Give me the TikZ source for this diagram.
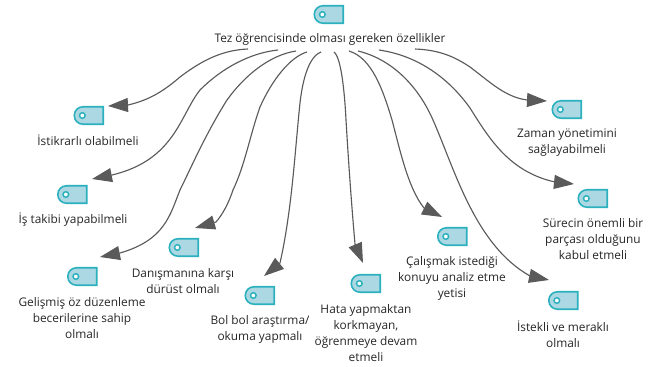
\documentclass[tikz,border=0pt]{standalone}
\usepackage{fontspec}
\setmainfont{Open Sans}
\usetikzlibrary{arrows.meta}
\definecolor{tagteal}{HTML}{2BB0BE}
\definecolor{tagfill}{HTML}{ABD8E2}
\definecolor{linkgray}{HTML}{5A5A5A}
\definecolor{labelink}{HTML}{262626}
\tikzset{
  tagbox/.style={minimum width=21.4pt,minimum height=13.1pt,inner sep=0pt,outer sep=0pt},
  tagshape/.style={draw=tagteal,fill=tagfill,line width=1.2pt},
  taghole/.style={draw=tagteal,fill=white,line width=1.1pt},
  label/.style={font=\fontsize{8.9pt}{12pt}\selectfont,text=labelink,align=center,inner sep=0pt,yshift=-0.4pt},
  link/.style={draw=linkgray,line width=0.85pt,-{Triangle[length=15pt,width=10.5pt,fill=linkgray]}},
}
\newcommand{\tagicon}[3]{%
  \node[tagbox] (#1) at (#2,#3) {};
  \path[tagshape] (#1.north east) -- (#1.south east) -- ([xshift=6.2pt]#1.south west)
    arc[start angle=270,end angle=90,radius=6.55pt] -- cycle;
  \draw[taghole] ([xshift=-5pt]#1.center) circle (2.1pt);
}
\begin{document}
\begin{tikzpicture}[x=0.75pt,y=-0.75pt]
\useasboundingbox (0,0) rectangle (654,367);
\tagicon{r}{329}{14.5}
\tagicon{i1}{89}{115.5}
\tagicon{i2}{72.5}{194.5}
\tagicon{i3}{82.5}{276.5}
\tagicon{i4}{184}{247.5}
\tagicon{i5}{260}{295.5}
\tagicon{i6}{366}{283.5}
\tagicon{i7}{452.5}{236.5}
\tagicon{i8}{567}{109.5}
\tagicon{i9}{593}{198.5}
\tagicon{i10}{563.5}{300.5}
\node[label] (tr) at (330,39) {Tez öğrencisinde olması gereken özellikler};
\node[label] (t1) at (88,140) {İstikrarlı olabilmeli};
\node[label] (t2) at (73,219) {İş takibi yapabilmeli};
\node[label] (t3) at (82,318) {Gelişmiş öz düzenleme\\becerilerine sahip\\olmalı};
\node[label] (t4) at (183,281) {Danışmanına karşı\\dürüst olmalı};
\node[label] (t5) at (260,328.5) {Bol bol araştırma/\\okuma yapmalı};
\node[label] (t6) at (366,332.5) {Hata yapmaktan\\korkmayan,\\öğrenmeye devam\\etmeli};
\node[label] (t7) at (452,278) {Çalışmak istediği\\konuyu analiz etme\\yetisi};
\node[label] (t8) at (567,142) {Zaman yönetimini\\sağlayabilmeli};
\node[label] (t9) at (593,239) {Sürecin önemli bir\\parçası olduğunu\\kabul etmeli};
\node[label] (t10) at (563,333.5) {İstekli ve meraklı\\olmalı};
\coordinate (s1) at (248,49);
\coordinate (s2) at (278,50);
\coordinate (s3) at (296,51);
\coordinate (s4) at (307,52);
\coordinate (s5) at (321,52);
\coordinate (s6) at (334,52);
\coordinate (s7) at (349,51);
\coordinate (s8) at (358,51);
\coordinate (s9) at (379,50);
\coordinate (s10) at (415,49);
\coordinate (e1) at (108,106);
\coordinate (e2) at (92,179);
\coordinate (e3) at (100,257);
\coordinate (e4) at (195,228);
\coordinate (e5) at (264,276);
\coordinate (e6) at (363,263);
\coordinate (e7) at (442,217);
\coordinate (e8) at (549,280);
\coordinate (e9) at (574,184);
\coordinate (e10) at (547,101);
\draw[link] (s1) .. controls (225,50) and (205,58) .. (180,77) .. controls (165,90) and (150,100) .. (128,105) -- (e1);
\draw[link] (s2) .. controls (250,53) and (222,68) .. (200,90) .. controls (180,115) and (175,160) .. (112,175) -- (e2);
\draw[link] (s3) .. controls (270,55) and (245,75) .. (227,100) .. controls (205,135) and (190,170) .. (180,190) .. controls (170,215) and (165,240) .. (120,253) -- (e3);
\draw[link] (s4) .. controls (290,57) and (272,80) .. (260,107) .. controls (250,135) and (245,165) .. (233,190) .. controls (228,205) and (222,215) .. (216,222) -- (e4);
\draw[link] (s5) .. controls (305,58) and (301,95) .. (300,103) .. controls (295,150) and (292,210) .. (280,263) -- (e5);
\draw[link] (s6) .. controls (342,58) and (345,100) .. (346,120) .. controls (349,170) and (352,210) .. (355,244) -- (e6);
\draw[link] (s7) .. controls (372,58) and (383,90) .. (392,120) .. controls (400,150) and (408,188) .. (424,208) -- (e7);
\draw[link] (s8) .. controls (395,60) and (420,90) .. (433,120) .. controls (455,170) and (475,245) .. (530,276) -- (e8);
\draw[link] (s9) .. controls (420,56) and (450,80) .. (470,108) .. controls (490,140) and (510,172) .. (555,182) -- (e9);
\draw[link] (s10) .. controls (440,50) and (455,57) .. (470,67) .. controls (490,82) and (505,97) .. (527,100) -- (e10);
\end{tikzpicture}
\end{document}
